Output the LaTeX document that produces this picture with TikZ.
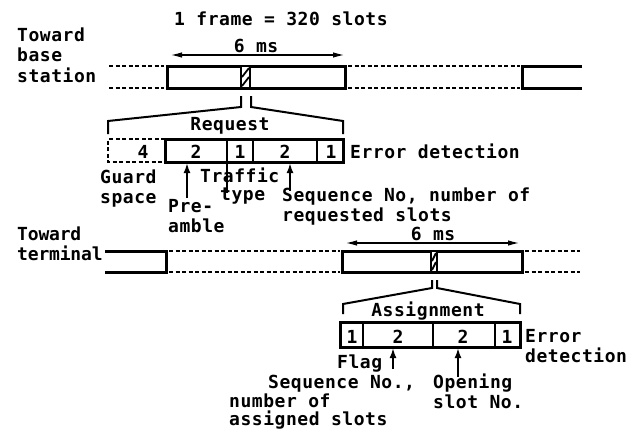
\documentclass[tikz,border=0pt]{standalone}
\usepackage{fontspec}
\newfontfamily\labfont[LetterSpace=3]{DejaVu Sans Mono}
\newfontfamily\labfontn[LetterSpace=-1]{DejaVu Sans Mono}
\usetikzlibrary{arrows.meta}
\begin{document}
\begin{tikzpicture}[x=1pt,y=-1pt,
  lab/.style={inner sep=0pt, anchor=base west, align=left,
    font=\labfont\bfseries\fontsize{18}{20.5}\selectfont},
  labn/.style={lab, font=\labfontn\bfseries\fontsize{18}{20.5}\selectfont},
  num/.style={lab, anchor=base, align=center},
  framebox/.style={line width=3pt},
  dashline/.style={line width=1.5pt, dash pattern=on 4pt off 2.5pt},
  divider/.style={line width=2.4pt},
  bracketline/.style={line width=2pt},
  ptr/.style={line width=2.2pt, -{Latex[length=10pt,width=7pt]}},
  dimarrow/.style={line width=1.7pt, {Latex[length=12pt,width=5.5pt]}-{Latex[length=12pt,width=5.5pt]}},
  hatch/.style={line width=1.8pt}
]
\useasboundingbox (0,0) rectangle (635,439);

% ---------------- title ----------------
\node[lab] (title) at (174,25) {1 frame = 320 slots};

% ---------------- toward base station ----------------
\node[lab] (tbs) at (17,82) {Toward\\base\\station};

\draw[dashline] (109,66) -- (164,66) (109,88) -- (164,88);
\draw[framebox] (167,66) rectangle (345,88);
\draw[dashline] (348,66) -- (520,66) (348,88) -- (520,88);
\draw[framebox] (582,66) -- (522,66) -- (522,88) -- (582,88);
% slot
\draw[hatch, fill=white] (241,66) rectangle (250,88);
\draw[hatch] (242,86) -- (249,77) (242,77) -- (249,68);

% 6 ms arrow
\coordinate (a1l) at (170,55);
\coordinate (a1r) at (345,55);
\draw[dimarrow] (a1l) -- (a1r);
\node[num] (ms1) at (256,52) {6 ms};

% bracket
\draw[bracketline] (241,96) -- (241,107) -- (108,121) -- (108,134);
\draw[bracketline] (251,96) -- (251,107) -- (343,121) -- (343,134);
\node[num] (req) at (230,130) {Request};

% request row
\draw[dashline] (165,139) -- (108,139) -- (108,162) -- (165,162);
\draw[framebox] (165,139) rectangle (343,162);
\draw[divider] (227,139) -- (227,162) (253,139) -- (253,162) (317,139) -- (317,162);
\node[num] (r4) at (143,158) {4};
\node[num] (r2a) at (196,158) {2};
\node[num] (r1a) at (240,158) {1};
\node[num] (r2b) at (285,158) {2};
\node[num] (r1b) at (331,158) {1};
\node[lab] (err1) at (350,158) {Error detection};

\node[lab] (guard) at (100,203.5) {Guard\\space};
\node[lab] (pre) at (168,232.5) {Pre-\\amble};
\coordinate (preS) at (187,198);
\coordinate (preE) at (187,163);
\draw[ptr] (preS) -- (preE);
\node[lab] (traf) at (200,182) {Traffic};
\node[lab] (ttype) at (220,200) {type};
\coordinate (trS) at (227,162);
\coordinate (trE) at (227,193);
\draw[divider] (trS) -- (trE);
\coordinate (sqS) at (290,191);
\coordinate (sqE) at (290,163);
\draw[ptr] (sqS) -- (sqE);
\node[lab] (seqreq) at (282,221.5) {Sequence No, number of\\requested slots};

% ---------------- toward terminal ----------------
\node[labn] (tt) at (17,260.5) {Toward\\terminal};

\draw[framebox] (105,251) -- (166,251) -- (166,272) -- (105,272);
\draw[dashline] (169,251) -- (340,251) (169,272) -- (340,272);
\draw[framebox] (342,251) rectangle (522,272);
\draw[dashline] (525,251) -- (580,251) (525,272) -- (580,272);
\draw[hatch, fill=white] (431,251) rectangle (437,272);
\draw[hatch] (432,270) -- (436,262) (432,261) -- (436,253);

\coordinate (a2l) at (345,243);
\coordinate (a2r) at (520,243);
\draw[dimarrow] (a2l) -- (a2r);
\node[num] (ms2) at (433,240) {6 ms};

\draw[bracketline] (432,280) -- (432,288) -- (343,304) -- (343,314);
\draw[bracketline] (437,280) -- (437,288) -- (520,304) -- (520,314);
\node[num] (asg) at (428,316) {Assignment};

\draw[framebox] (340,322) rectangle (520,347);
\draw[divider] (363,322) -- (363,347) (433,322) -- (433,347) (495,322) -- (495,347);
\node[num] (s1a) at (352,343) {1};
\node[num] (s2a) at (398,343) {2};
\node[num] (s2b) at (463,343) {2};
\node[num] (s1b) at (507,343) {1};
\node[lab] (err2) at (525,362.5) {Error\\detection};

\node[lab] (flag) at (337,368) {Flag};
\coordinate (fS) at (393,369);
\coordinate (fE) at (393,348);
\draw[ptr] (fS) -- (fE);
\coordinate (oS) at (458,377);
\coordinate (oE) at (458,348);
\draw[ptr] (oS) -- (oE);

\node[lab] (sqa) at (268,388) {Sequence No.,};
\node[lab] (sqb) at (229,407) {number of};
\node[lab] (sqc) at (229,425) {assigned slots};
\node[lab] (open) at (433,408.5) {Opening\\slot No.};
\end{tikzpicture}
\end{document}
